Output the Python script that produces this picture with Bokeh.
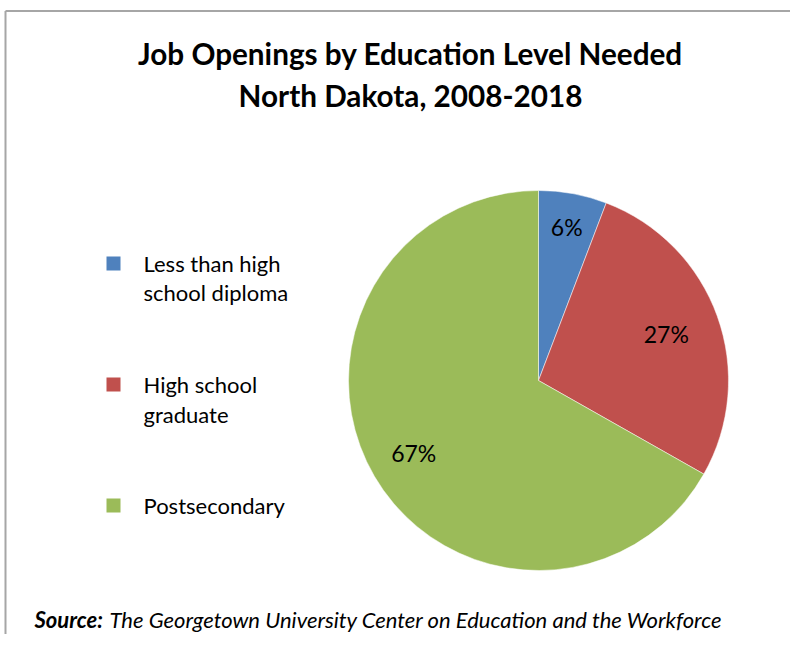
import math
from bokeh.plotting import figure
from bokeh.models import Range1d, ColumnDataSource
from bokeh.core.properties import value
from bokeh.embed import file_html
from bokeh.resources import INLINE

# ---- data ----
categories = ["Less than high school diploma", "High school graduate", "Postsecondary"]
legend_labels = ["Less than high\nschool diploma", "High school\ngraduate", "Postsecondary"]
shares = [5.8, 27.4, 66.8]
pct_labels = ["6%", "27%", "67%"]
colors = ["#4F81BD", "#C0504D", "#9BBB59"]
title_lines = ["Job Openings by Education Level Needed", "North Dakota, 2008-2018"]
source_bold = "Source:"
source_text = "The Georgetown University Center on Education and the Workforce"

W, H = 790, 634
FONT = "Lato"

def py(pic_y):
    return H - pic_y

p = figure(width=W, height=H, output_backend="svg", toolbar_location=None,
           x_range=Range1d(0, W), y_range=Range1d(0, H), min_border=0)
p.axis.visible = False
p.grid.visible = False
p.outline_line_color = None
p.background_fill_color = "white"
p.border_fill_color = "white"

# frame lines (top and left visible in reference)
p.line(x=[5, W], y=[py(10.5), py(10.5)], line_color="#A6A6A6", line_width=2)
p.line(x=[5, 5], y=[py(10.5), py(H)], line_color="#A6A6A6", line_width=2)

# ---- pie ----
total = sum(shares)
starts, ends = [], []
acc = 0.0
for s in shares:
    a0 = math.pi / 2 - 2 * math.pi * acc / total
    acc += s
    a1 = math.pi / 2 - 2 * math.pi * acc / total
    starts.append(a0)
    ends.append(a1)

cx, cy, r = 538, py(380), 190
src = ColumnDataSource(dict(cat=categories, share=shares, start=starts, end=ends, color=colors))
p.wedge(x=cx, y=cy, radius=r, start_angle="start", end_angle="end", direction="clock",
        fill_color="color", line_color="white", line_width=0.5, source=src)

# percentage labels placed at fractions of radius along slice mid-angle
lab_r = [0.82, 0.715, 0.76]
lx, ly = [], []
for a0, a1, f in zip(starts, ends, lab_r):
    m = (a0 + a1) / 2
    lx.append(cx + f * r * math.cos(m))
    ly.append(cy + f * r * math.sin(m))
p.text(x=lx, y=ly, text=pct_labels, text_font=value(FONT), text_font_size="23px",
       text_align="center", text_baseline="middle", text_color="black")

# ---- legend ----
sq_y = [py(263), py(384), py(505)]
txt_y = [py(277.5), py(399), py(505)]
p.rect(x=[113] * 3, y=sq_y, width=14, height=14, fill_color=colors, line_color=None)
p.text(x=[143] * 3, y=txt_y, text=legend_labels, text_font=value(FONT), text_font_size="22px",
       text_align="left", text_baseline="middle", text_color="black", text_line_height=1.08)

# ---- title ----
p.text(x=[410, 410], y=[py(53), py(95)], text=title_lines, text_font=value(FONT),
       text_font_size="29.7px", text_font_style="bold", text_align="center",
       text_baseline="middle", text_color="black")

# ---- source ----
p.text(x=[34], y=[py(619)], text=[source_bold], text_font=value(FONT), text_font_size="22px",
       text_font_style="bold italic", text_align="left", text_baseline="middle", text_color="black")
p.text(x=[109], y=[py(619)], text=[source_text], text_font=value(FONT), text_font_size="22px",
       text_font_style="italic", text_align="left", text_baseline="middle", text_color="black")

open("out.html", "w").write(file_html(p, INLINE))
